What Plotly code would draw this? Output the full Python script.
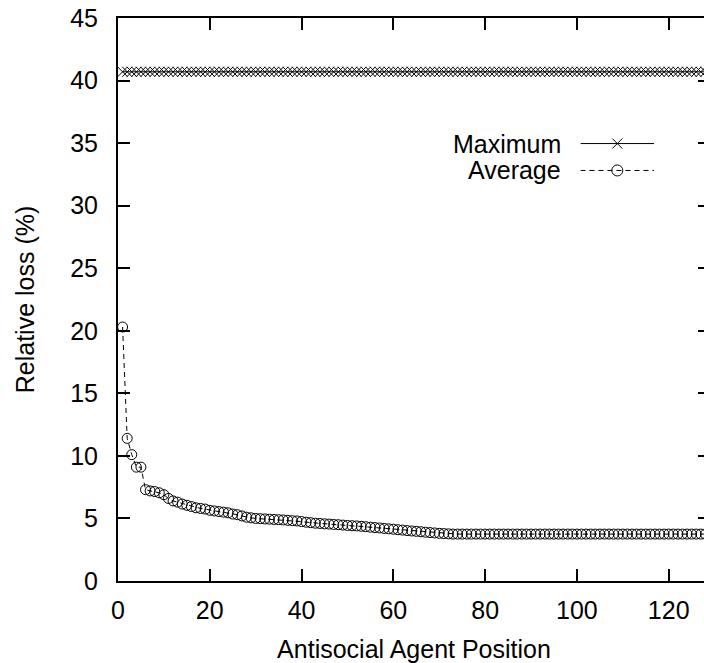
import plotly.graph_objects as go

# ---- data ----
positions = list(range(1, 129))

maximum = [
    40.7, 40.7, 40.7, 40.7, 40.7, 40.7, 40.7, 40.7, 40.7, 40.7, 40.7, 40.7, 40.7, 40.7, 40.7, 40.7,
    40.7, 40.7, 40.7, 40.7, 40.7, 40.7, 40.7, 40.7, 40.7, 40.7, 40.7, 40.7, 40.7, 40.7, 40.7, 40.7,
    40.7, 40.7, 40.7, 40.7, 40.7, 40.7, 40.7, 40.7, 40.7, 40.7, 40.7, 40.7, 40.7, 40.7, 40.7, 40.7,
    40.7, 40.7, 40.7, 40.7, 40.7, 40.7, 40.7, 40.7, 40.7, 40.7, 40.7, 40.7, 40.7, 40.7, 40.7, 40.7,
    40.7, 40.7, 40.7, 40.7, 40.7, 40.7, 40.7, 40.7, 40.7, 40.7, 40.7, 40.7, 40.7, 40.7, 40.7, 40.7,
    40.7, 40.7, 40.7, 40.7, 40.7, 40.7, 40.7, 40.7, 40.7, 40.7, 40.7, 40.7, 40.7, 40.7, 40.7, 40.7,
    40.7, 40.7, 40.7, 40.7, 40.7, 40.7, 40.7, 40.7, 40.7, 40.7, 40.7, 40.7, 40.7, 40.7, 40.7, 40.7,
    40.7, 40.7, 40.7, 40.7, 40.7, 40.7, 40.7, 40.7, 40.7, 40.7, 40.7, 40.7, 40.7, 40.7, 40.7, 40.7,
]

average = [
    20.3, 11.4, 10.1, 9.1, 9.1, 7.3, 7.2, 7.15, 7.05, 6.9,
    6.6, 6.4, 6.3, 6.15, 6.05, 5.95, 5.85, 5.8, 5.75, 5.65,
    5.6, 5.55, 5.5, 5.45, 5.35, 5.3, 5.2, 5.1, 5.05, 5.0,
    4.98, 4.96, 4.94, 4.92, 4.9, 4.88, 4.85, 4.82, 4.8, 4.75,
    4.7, 4.66, 4.62, 4.6, 4.57, 4.55, 4.52, 4.5, 4.47, 4.44,
    4.42, 4.4, 4.37, 4.34, 4.3, 4.27, 4.24, 4.2, 4.17, 4.14,
    4.1, 4.07, 4.03, 4.0, 3.97, 3.94, 3.9, 3.87, 3.84, 3.81,
    3.79, 3.77, 3.75, 3.75, 3.75, 3.75, 3.75, 3.75, 3.75, 3.75,
    3.75, 3.75, 3.75, 3.75, 3.75, 3.75, 3.75, 3.75, 3.75, 3.75,
    3.75, 3.75, 3.75, 3.75, 3.75, 3.75, 3.75, 3.75, 3.75, 3.75,
    3.75, 3.75, 3.75, 3.75, 3.75, 3.75, 3.75, 3.75, 3.75, 3.75,
    3.75, 3.75, 3.75, 3.75, 3.75, 3.75, 3.75, 3.75, 3.75, 3.75,
    3.75, 3.75, 3.75, 3.75, 3.75, 3.75, 3.75, 3.75,
]

x_ticks = [0, 20, 40, 60, 80, 100, 120]
y_ticks = [0, 5, 10, 15, 20, 25, 30, 35, 40, 45]
series_names = ["Maximum", "Average"]

FONT = "Liberation Sans, Arial, sans-serif"
FS = 25

fig = go.Figure()

fig.add_trace(go.Scatter(
    x=positions, y=maximum, mode="lines+markers", name=series_names[0],
    line=dict(color="black", width=1),
    marker=dict(symbol="x-thin-open", size=10, color="black", line=dict(color="black", width=1)),
    showlegend=False,
))
fig.add_trace(go.Scatter(
    x=positions, y=average, mode="lines+markers", name=series_names[1],
    line=dict(color="black", width=1, dash="5px,4px"),
    marker=dict(symbol="circle-open", size=10, color="black", line=dict(color="black", width=1)),
    showlegend=False,
))

# ---- custom legend (text left of the sample, as in the reference) ----
fig.add_trace(go.Scatter(
    x=[0, 1], y=[1, 1], mode="lines", xaxis="x2", yaxis="y2",
    line=dict(color="black", width=1),
    showlegend=False, hoverinfo="skip", cliponaxis=False,
))
fig.add_trace(go.Scatter(
    x=[0, 1], y=[0, 0], mode="lines", xaxis="x2", yaxis="y2",
    line=dict(color="black", width=1, dash="5px,4px"),
    showlegend=False, hoverinfo="skip", cliponaxis=False,
))
fig.add_trace(go.Scatter(
    x=[0.5], y=[1], mode="markers", xaxis="x2", yaxis="y2",
    marker=dict(symbol="x-thin-open", size=10, color="black", line=dict(color="black", width=1)),
    showlegend=False, hoverinfo="skip", cliponaxis=False,
))
fig.add_trace(go.Scatter(
    x=[0.5], y=[0], mode="markers", xaxis="x2", yaxis="y2",
    marker=dict(symbol="circle-open", size=11, color="black", line=dict(color="black", width=1)),
    showlegend=False, hoverinfo="skip", cliponaxis=False,
))

W, H = 716, 663
ml, mr, mt, mb = 118, 4, 16, 82
pw = W - ml - mr
ph = H - mt - mb

def px_x(p):
    return (p - ml) / pw

def px_y(p):
    return (H - mb - p) / ph

row_max, row_avg = 142, 169
unit = px_y(row_max) - px_y(row_avg)

axis_common = dict(
    showline=True, linecolor="black", linewidth=2, mirror="ticks",
    ticks="inside", ticklen=12, tickwidth=1.5, tickcolor="black",
    showgrid=False, zeroline=False,
    tickfont=dict(family=FONT, size=FS, color="black"),
)

fig.update_layout(
    width=W, height=H,
    margin=dict(l=ml, r=mr, t=mt, b=mb, pad=0),
    paper_bgcolor="white", plot_bgcolor="white",
    font=dict(family=FONT, size=FS, color="black"),
    xaxis=dict(range=[0, 129], tickmode="array", tickvals=x_ticks,
               title=dict(text="Antisocial Agent Position", font=dict(family=FONT, size=FS), standoff=17),
               ticklabelstandoff=6, **axis_common),
    yaxis=dict(range=[0, 45], tickmode="array", tickvals=y_ticks,
               title=dict(text="Relative loss (%)", font=dict(family=FONT, size=FS), standoff=28),
               ticklabelstandoff=13, **axis_common),
    xaxis2=dict(domain=[px_x(582), px_x(656)], range=[0, 1], anchor="y2",
                visible=False, fixedrange=True),
    yaxis2=dict(domain=[px_y(row_avg) - unit, px_y(row_max) + unit], range=[-1, 2], anchor="x2",
                visible=False, fixedrange=True),
    annotations=[
        dict(x=px_x(565), y=px_y(row_max), xref="paper", yref="paper", text=series_names[0],
             showarrow=False, xanchor="right", yanchor="middle", font=dict(family=FONT, size=FS)),
        dict(x=px_x(565), y=px_y(row_avg), xref="paper", yref="paper", text=series_names[1],
             showarrow=False, xanchor="right", yanchor="middle", font=dict(family=FONT, size=FS)),
    ],
)

fig.write_html(
    "out.html",
    config={"displayModeBar": False},
    post_script="document.body.style.margin='0';document.body.style.overflow='hidden';"
                "document.documentElement.style.overflow='hidden';",
)
